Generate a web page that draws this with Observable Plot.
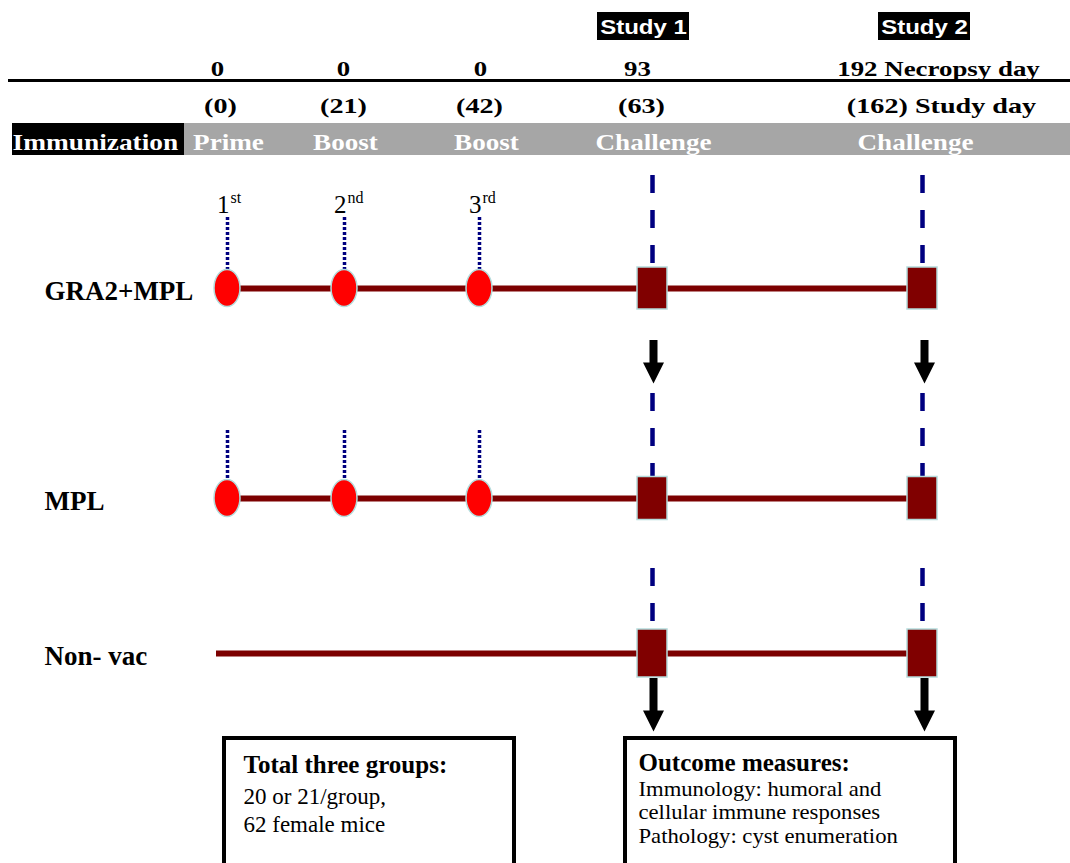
<!DOCTYPE html>
<html><head><meta charset="utf-8">
<script src="https://cdn.jsdelivr.net/npm/d3@7"></script>
<script src="https://cdn.jsdelivr.net/npm/@observablehq/plot@0.6"></script>
<style>html,body{margin:0;padding:0;background:#fff;}#chart svg{display:block;overflow:visible}</style>
</head><body><div id="chart"></div>
<script>
// ---------------- data ----------------
const events = ["Prime", "Boost", "Boost", "Challenge", "Challenge"];
const necropsyDays = [0, 0, 0, 93, 192];
const studyDays = [0, 21, 42, 63, 162];
const studies = ["Study 1", "Study 2"];
const groups = ["GRA2+MPL", "MPL", "Non- vac"];
const vaccinated = [true, true, false];
const doseNumbers = ["1", "2", "3"];
const doseSuffixes = ["st", "nd", "rd"];
const groupBoxLines = ["Total three groups:", "20 or 21/group,", "62 female mice"];
const outcomeBoxLines = ["Outcome measures:", "Immunology: humoral and", "cellular immune responses", "Pathology: cyst enumeration"];

// ---------------- layout (pixel geometry of the schematic) ----------------
const W = 1070, H = 863;
const colX = [227, 344, 479, 652, 922];       // marker columns
const headTopX = [217, 343, 480, 637, 938];   // necropsy-day label centres
const headBotX = [220, 343, 479, 641, 941];   // study-day label centres
const barLabelX = [228, 345, 486, 653, 915];  // gray band label centres
const studyBoxX = [643, 924];
const rowY = [288, 498, 653];
const squareH = [42, 43, 48];
const dottedTop = [217, 430];
const dashedTop = [175, 393, 568];
const arrowX = [653, 924];
const arrowRows = [{row: 0, top: 340, tip: 383}, {row: 2, top: 678, tip: 731}];
const serif = "Liberation Serif";
const maroon = "#7c0000", navy = "#000080", rim = "#b4dcdc";

// ---------------- derived tables ----------------
const cols = events.map((e, i) => ({event: e, necropsy: necropsyDays[i], study: studyDays[i], i}));
const challengeCols = cols.filter(d => d.event === "Challenge");
const rows = groups.map((g, r) => ({group: g, vaccinated: vaccinated[r], r}));
const doses = doseNumbers.map((n, i) => ({n, s: doseSuffixes[i], i}));
const ellipses = rows.filter(d => d.vaccinated).flatMap(d => [0, 1, 2].map(i => ({x: colX[i], y: rowY[d.r]})));
const squares = rows.flatMap(d => challengeCols.map(c => ({x: colX[c.i], y: rowY[d.r], h: squareH[d.r]})));
const dotted = rows.filter(d => d.vaccinated).flatMap(d => [0, 1, 2].map(i => ({x: colX[i], y1: dottedTop[d.r], y2: rowY[d.r] - 18})));
const dashed = rows.flatMap(d => challengeCols.map(c => ({x: colX[c.i], y1: dashedTop[d.r], y2: rowY[d.r] - squareH[d.r] / 2})));
const arrows = arrowRows.flatMap(a => arrowX.map(x => ({x, top: a.top, tip: a.tip})));
const panels = [
  {x1: 12, x2: 184, y1: 123, y2: 155, fill: "#000000"},
  {x1: 184, x2: W, y1: 123, y2: 155, fill: "#a6a6a6"},
  ...studies.map((s, k) => ({x1: studyBoxX[k] - 46, x2: studyBoxX[k] + 46, y1: 12, y2: 40, fill: "#000000"}))
];
const boxes = [{x1: 224, x2: 514}, {x1: 625, x2: 955}];

const triangleDown = {draw(ctx) { ctx.moveTo(-10.5, -21); ctx.lineTo(10.5, -21); ctx.lineTo(0, 0); ctx.closePath(); }};

const textStretch = [];
function label(data, opts, stretch = 1) {
  textStretch.push(stretch);
  return Plot.text(data, {fontFamily: serif, lineAnchor: "bottom", ...opts});
}

const marks = [
  Plot.rect(panels, {x1: "x1", x2: "x2", y1: "y1", y2: "y2", fill: "fill"}),
  Plot.ruleY([80], {x1: 8, x2: W, y: d => d, stroke: "#000", strokeWidth: 3}),
  // timelines
  Plot.ruleY(rows, {y: d => rowY[d.r], x1: d => d.vaccinated ? colX[0] : 216, x2: colX[4], stroke: maroon, strokeWidth: 6}),
  // dotted immunization markers
  Plot.ruleX(dotted, {x: "x", y1: "y1", y2: "y2", stroke: navy, strokeWidth: 3.5, strokeDasharray: "3,2"}),
  // dashed challenge markers
  Plot.ruleX(dashed, {x: "x", y1: "y1", y2: "y2", stroke: navy, strokeWidth: 4.5, strokeDasharray: "18,17"}),
  // ellipses
  Plot.rect(ellipses, {x1: d => d.x - 13, x2: d => d.x + 13, y1: d => d.y - 18.5, y2: d => d.y + 18.5, rx: 13, ry: 18.5, fill: "#ff0000", stroke: rim, strokeWidth: 1.5}),
  // squares
  Plot.rect(squares, {x1: d => d.x - 15, x2: d => d.x + 15, y1: d => d.y - d.h / 2, y2: d => d.y + d.h / 2, fill: "#800000", stroke: rim, strokeWidth: 1.5}),
  // arrows
  Plot.ruleX(arrows, {x: "x", y1: "top", y2: d => d.tip - 20, stroke: "#000", strokeWidth: 8}),
  Plot.dot(arrows, {x: "x", y: "tip", symbol: triangleDown, fill: "#000", stroke: "none"}),
  // outcome / group boxes
  Plot.rect(boxes, {x1: "x1", x2: "x2", y1: () => 738, y2: () => 880, fill: "#fff", stroke: "#000", strokeWidth: 4}),
  // texts
  label(studies, {x: (d, k) => studyBoxX[k], y: () => 33, text: d => d, fontFamily: "Liberation Sans", fontWeight: "bold", fontSize: 20, fill: "#fff"}, 1.2),
  label(cols, {x: d => headTopX[d.i], y: () => 75, text: d => d.i === 4 ? `${d.necropsy} Necropsy day` : `${d.necropsy}`, fontWeight: "bold", fontSize: 21}, 1.28),
  label(cols, {x: d => headBotX[d.i], y: () => 112, text: d => d.i === 4 ? `(${d.study}) Study day` : `(${d.study})`, fontWeight: "bold", fontSize: 22}, 1.28),
  label(["Immunization"], {x: () => 12, y: () => 149, text: d => d, textAnchor: "start", fontWeight: "bold", fontSize: 24, fill: "#fff"}, 1.14),
  label(cols, {x: d => barLabelX[d.i], y: () => 149, text: "event", fontWeight: "bold", fontSize: 24, fill: "#fff"}, 1.13),
  label(doses, {x: d => colX[d.i] + 2, y: () => 212, text: "n", textAnchor: "end", fontSize: 25}),
  label(doses, {x: d => colX[d.i] + 3, y: () => 202, text: "s", textAnchor: "start", fontSize: 16}),
  label(rows, {x: () => 44, y: d => rowY[d.r] + 11, text: "group", textAnchor: "start", fontWeight: "bold", fontSize: 27}),
  label(groupBoxLines.slice(0, 1), {x: () => 243, y: () => 772, text: d => d, textAnchor: "start", fontWeight: "bold", fontSize: 25}),
  label(groupBoxLines.slice(1), {x: () => 243, y: (d, k) => [803, 831][k], text: d => d, textAnchor: "start", fontSize: 23}),
  label(outcomeBoxLines.slice(0, 1), {x: () => 638, y: () => 770, text: d => d, textAnchor: "start", fontWeight: "bold", fontSize: 25}),
  label(outcomeBoxLines.slice(1), {x: () => 638, y: (d, k) => [795, 818, 842][k], text: d => d, textAnchor: "start", fontSize: 22}, 1.03)
];

const svg = Plot.plot({
  width: W, height: H, margin: 0,
  x: {domain: [0, W], range: [0, W], axis: null},
  y: {domain: [0, H], range: [0, H], axis: null},
  color: {type: "identity"},
  style: {background: "#fff", overflow: "visible"},
  marks
});
document.getElementById("chart").appendChild(svg);

// horizontally stretch texts as in the reference
svg.querySelectorAll('g[aria-label="text"]').forEach((g, k) => {
  const s = textStretch[k];
  if (!s || s === 1) return;
  g.querySelectorAll("text").forEach(t => {
    const w = t.getComputedTextLength();
    t.setAttribute("textLength", (w * s).toFixed(1));
    t.setAttribute("lengthAdjust", "spacingAndGlyphs");
  });
});
</script>
</body></html>
